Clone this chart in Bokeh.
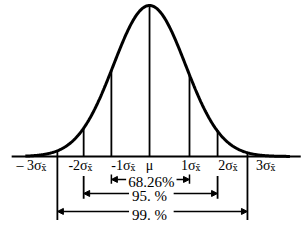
import numpy as np
from bokeh.plotting import figure
from bokeh.models import Arrow, NormalHead
from bokeh.core.properties import value
from bokeh.embed import file_html
from bokeh.resources import INLINE

# --- data ---
main_labels = ["\u2013 3\u03c3", "-2\u03c3", "-1\u03c3", "1\u03c3", "2\u03c3", "3\u03c3"]
sub_labels = ["x\u0304"] * 6
label_anchor = [-3.0, -1.72, -0.53, 1.28, 2.31, 3.36]
mu_label = "\u03bc"
line_pos = [-2.56, -1.83, -1.06, 0.0, 1.11, 1.89, 2.72]
pct_labels = ["68.26%", "95.  %", "99.  %"]
curve_from, curve_to = -3.45, 3.9

def dens(x):
    return np.exp(-np.asarray(x) ** 2 / 2.0)

p = figure(width=306, height=241, x_range=(-4.14, 4.36), y_range=(-0.563, 1.033),
           output_backend="svg", toolbar_location=None, min_border=0)
p.axis.visible = False
p.grid.visible = False
p.outline_line_color = None
p.background_fill_color = "white"
p.border_fill_color = "white"

# baseline
p.line([-3.83, 4.2], [0, 0], line_color="black", line_width=2)

# curve
xs = np.linspace(curve_from, curve_to, 400)
p.line(xs, dens(xs), line_color="black", line_width=3)

lp = line_pos
tops = dens(lp)
for i in (2, 3, 4):
    p.segment(lp[i], tops[i], lp[i], 0, line_color="black", line_width=1.8)
for i in (1, 5):
    p.segment(lp[i], tops[i], lp[i], 0, line_color="black", line_width=1.8)
    p.segment(lp[i], -0.13, lp[i], -0.28, line_color="black", line_width=1.8)
for i in (0, 6):
    p.segment(lp[i], tops[i], lp[i], -0.42, line_color="black", line_width=1.8)
for i in (2, 4):
    p.segment(lp[i], -0.12, lp[i], -0.18, line_color="black", line_width=1.5)

# arrows, split around the text
arrow_y = [-0.152, -0.245, -0.364]
text_x = [0.05, 0.05, 0.05]
half_w = [0.7, 0.62, 0.62]
pairs = [(2, 4), (1, 5), (0, 6)]
for (a, b), y, tx, hw in zip(pairs, arrow_y, text_x, half_w):
    for xs_, xe_ in ((tx - hw, lp[a]), (tx + hw, lp[b])):
        p.add_layout(Arrow(x_start=xs_, x_end=xe_, y_start=y, y_end=y, start=None,
                           end=NormalHead(size=6, fill_color="black", line_color="black"),
                           line_color="black", line_width=1.5))

font = value("Liberation Serif")
text_y = [-0.168, -0.262, -0.385]
p.text(x=text_x, y=text_y, text=pct_labels, text_font=font,
       text_font_size="15px", text_align="center", text_baseline="middle")

# sigma labels
p.text(x=label_anchor, y=[-0.06] * 6, text=main_labels, text_font=font,
       text_font_size="14px", text_align="right", text_baseline="middle")
p.text(x=label_anchor, y=[-0.078] * 6, text=sub_labels, text_font=value("DejaVu Serif"),
       text_font_size="8.5px", text_align="left", text_baseline="middle")
p.text(x=[0.0], y=[-0.06], text=[mu_label], text_font=font, text_font_size="14px",
       text_align="center", text_baseline="middle")

open("out.html", "w").write(file_html(p, INLINE))
